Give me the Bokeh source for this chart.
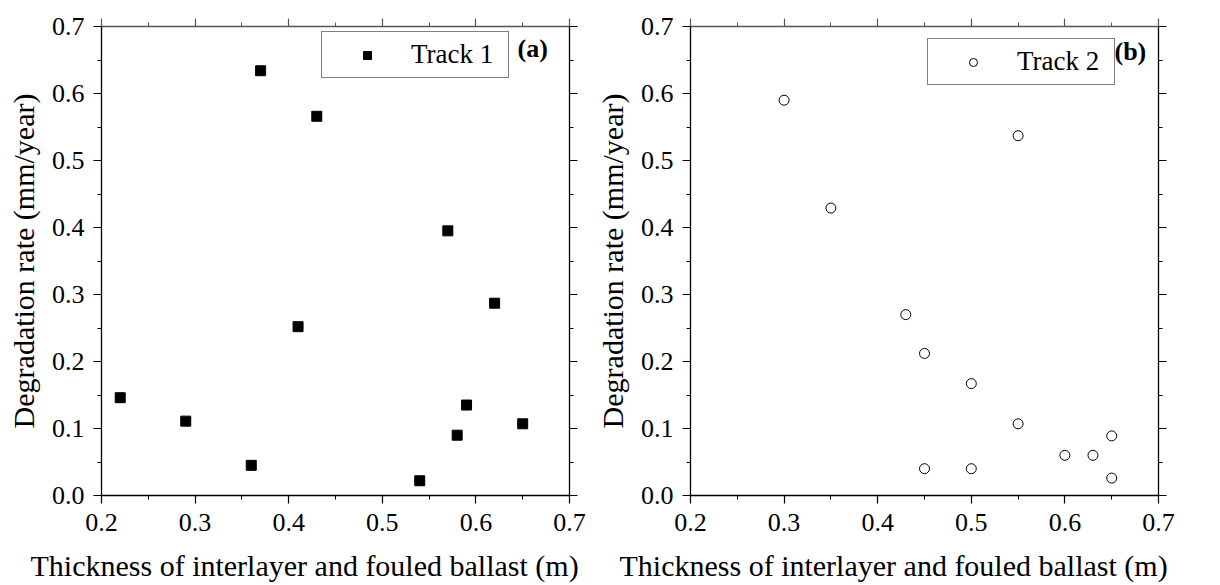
from bokeh.plotting import figure
from bokeh.layouts import row
from bokeh.models import (Range1d, LinearAxis, FixedTicker, Legend, LegendItem,
                          Label, Title, PrintfTickFormatter, CustomJSTickFormatter)
from bokeh.embed import file_html
from bokeh.resources import INLINE

# ---- data ----
track1_x = [0.22, 0.29, 0.36, 0.37, 0.41, 0.43, 0.54, 0.57, 0.58, 0.59, 0.62, 0.65]
track1_y = [0.146, 0.111, 0.045, 0.634, 0.252, 0.566, 0.022, 0.395, 0.090, 0.135, 0.287, 0.107]

track2_x = [0.30, 0.35, 0.43, 0.45, 0.45, 0.50, 0.50, 0.55, 0.55, 0.60, 0.63, 0.65, 0.65]
track2_y = [0.590, 0.429, 0.270, 0.212, 0.040, 0.167, 0.040, 0.537, 0.107, 0.060, 0.060, 0.089, 0.026]

x_ticks = [0.2, 0.3, 0.4, 0.5, 0.6, 0.7]
x_minor = [0.25, 0.35, 0.45, 0.55, 0.65]
y_ticks = [0.0, 0.1, 0.2, 0.3, 0.4, 0.5, 0.6, 0.7]
y_minor = [0.05, 0.15, 0.25, 0.35, 0.45, 0.55, 0.65]

x_label = "Thickness of interlayer and fouled ballast (m)"
y_label = "Degradation rate (mm/year)"

FONT = "Liberation Serif"


def style_axis(ax, ticks, minor, show_labels=True, color="black", standoff=7):
    ax.ticker = FixedTicker(ticks=ticks, minor_ticks=minor)
    ax.axis_line_color = color
    ax.axis_line_width = 1.3
    ax.major_tick_line_color = color
    ax.minor_tick_line_color = color
    ax.major_tick_line_width = 1.2
    ax.minor_tick_line_width = 1.0
    ax.major_tick_in = 0
    ax.major_tick_out = 8
    ax.minor_tick_in = 0
    ax.minor_tick_out = 4
    ax.major_label_text_font = FONT
    ax.major_label_text_color = "black"
    ax.major_label_text_font_size = "26px"
    if show_labels:
        ax.formatter = PrintfTickFormatter(format="%.1f")
        ax.major_label_standoff = standoff
    else:
        ax.formatter = CustomJSTickFormatter(code="return ''")
        ax.major_label_standoff = 0


def make_panel(xs, ys, marker, legend_text, legend_loc, tag, tag_pos):
    p = figure(frame_width=468, frame_height=469,
               x_range=Range1d(0.2, 0.7), y_range=Range1d(0.0, 0.7),
               output_backend="svg", toolbar_location=None,
               min_border_left=101, min_border_right=20, min_border_top=26,
               min_border_bottom=60)
    p.grid.visible = False
    p.outline_line_color = None
    p.background_fill_color = "white"
    p.border_fill_color = "white"

    style_axis(p.xaxis[0], x_ticks, x_minor, standoff=10)
    style_axis(p.yaxis[0], y_ticks, y_minor, standoff=9)
    p.xaxis[0].axis_label = None
    p.yaxis[0].axis_label = y_label
    p.yaxis[0].axis_label_text_font = FONT
    p.yaxis[0].axis_label_text_font_size = "30px"
    p.yaxis[0].axis_label_text_font_style = "normal"
    p.yaxis[0].axis_label_text_color = "black"
    p.yaxis[0].axis_label_standoff = 9

    top = LinearAxis()
    style_axis(top, x_ticks, x_minor, show_labels=False, color="#555555")
    p.add_layout(top, "above")
    right = LinearAxis()
    style_axis(right, y_ticks, y_minor, show_labels=False)
    p.add_layout(right, "right")

    if marker == "square":
        r = p.scatter(xs, ys, marker="square", size=10, fill_color="black",
                      line_color="black", line_width=1)
    else:
        r = p.scatter(xs, ys, marker="circle", size=10, fill_color="white",
                      line_color="black", line_width=1)

    leg = Legend(items=[LegendItem(label=legend_text, renderers=[r])],
                 location=legend_loc, orientation="vertical",
                 label_text_font=FONT, label_text_font_size="27px",
                 label_text_color="black",
                 glyph_width=76, glyph_height=20, label_standoff=6, label_width=90,
                 padding=7, spacing=0, margin=0,
                 border_line_color="black", border_line_width=1,
                 background_fill_color="white", background_fill_alpha=1)
    p.add_layout(leg)

    p.add_layout(Label(x=tag_pos[0], y=tag_pos[1], x_units="screen", y_units="screen",
                       text=tag, text_font=FONT, text_font_size="26px",
                       text_font_style="bold", text_color="black",
                       text_baseline="middle", text_align="left", level="overlay"))

    t = Title(text=x_label, align="left", offset=-71, text_font=FONT,
              text_font_size="30px", text_font_style="normal", text_color="black",
              standoff=26)
    p.add_layout(t, "below")
    return p


p1 = make_panel(track1_x, track1_y, "square", "Track 1", (220, 417), "(a)", (416, 447))
p2 = make_panel(track2_x, track2_y, "circle", "Track 2", (237, 410), "(b)", (424, 444))

layout = row(p1, p2, spacing=0)
open("out.html", "w").write(file_html(layout, INLINE))
